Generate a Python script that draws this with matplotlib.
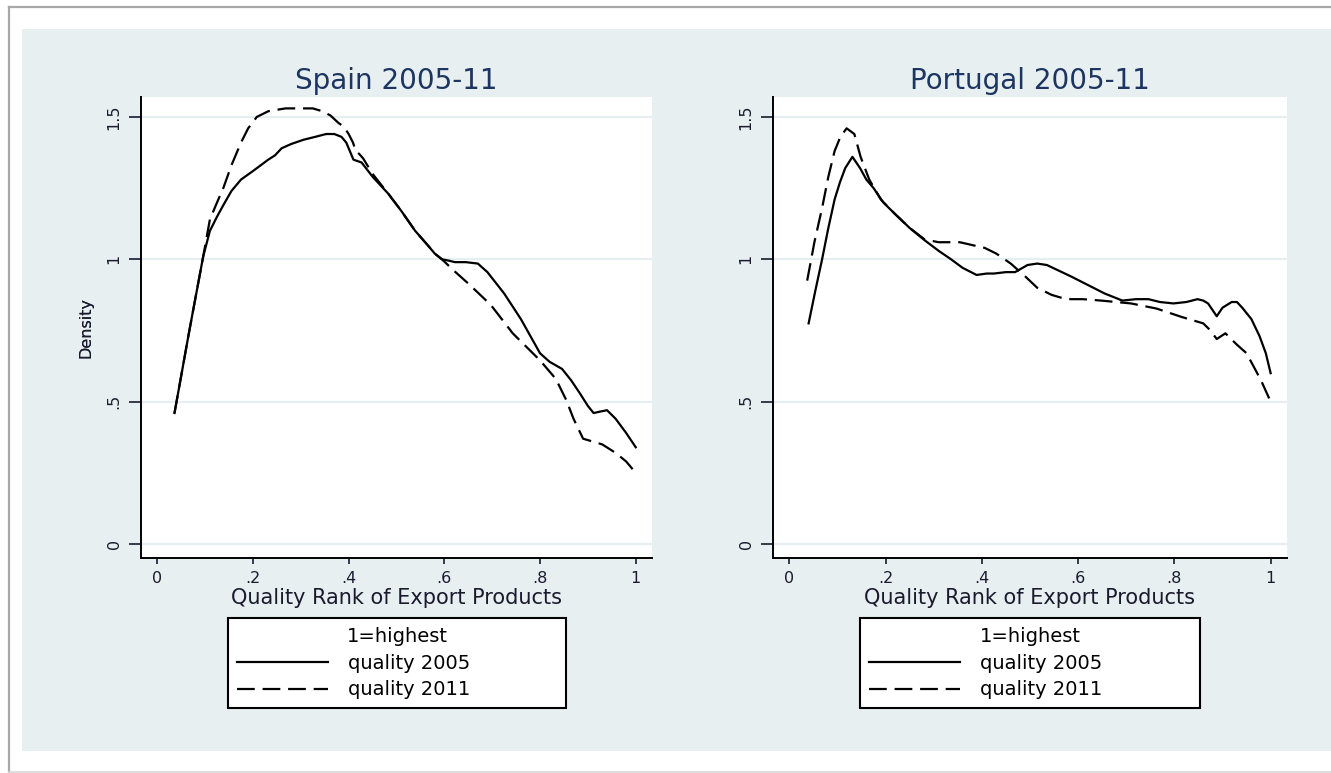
import matplotlib
matplotlib.use("Agg")
import matplotlib.pyplot as plt
from matplotlib.patches import Rectangle
from matplotlib.lines import Line2D

# Spain, kernel density of quality rank
spain_x05 = [0.036, 0.066, 0.096, 0.11, 0.125, 0.138, 0.155, 0.175, 0.2, 0.22, 0.232, 0.246, 0.26, 0.28,
             0.306, 0.33, 0.353, 0.37, 0.385, 0.395, 0.405, 0.41, 0.427, 0.45, 0.483, 0.51, 0.539, 0.565,
             0.58, 0.595, 0.61, 0.622, 0.645, 0.67, 0.69, 0.725, 0.76, 0.8, 0.82, 0.846, 0.865, 0.883,
             0.9, 0.912, 0.925, 0.94, 0.958, 0.98, 1.0]
spain_y05 = [0.46, 0.74, 1.01, 1.10, 1.15, 1.19, 1.24, 1.28, 1.31, 1.335, 1.35, 1.365, 1.39, 1.405,
             1.42, 1.43, 1.44, 1.44, 1.43, 1.41, 1.37, 1.35, 1.34, 1.29, 1.23, 1.17, 1.10, 1.05,
             1.02, 1.0, 0.995, 0.99, 0.99, 0.985, 0.955, 0.88, 0.79, 0.67, 0.64, 0.615, 0.575, 0.53,
             0.485, 0.46, 0.465, 0.47, 0.44, 0.39, 0.34]
spain_x11 = [0.036, 0.066, 0.096, 0.11, 0.125, 0.138, 0.155, 0.175, 0.19, 0.208, 0.232, 0.268, 0.3,
             0.325, 0.345, 0.362, 0.378, 0.39, 0.4, 0.409, 0.415, 0.422, 0.43, 0.45, 0.483, 0.51, 0.539,
             0.565, 0.58, 0.595, 0.62, 0.65, 0.697, 0.743, 0.8, 0.833, 0.855, 0.87, 0.89, 0.91, 0.93,
             0.958, 0.98, 0.995]
spain_y11 = [0.46, 0.74, 1.01, 1.14, 1.20, 1.25, 1.33, 1.41, 1.46, 1.50, 1.52, 1.53, 1.53,
             1.53, 1.52, 1.505, 1.48, 1.465, 1.44, 1.41, 1.38, 1.37, 1.355, 1.30, 1.23, 1.17, 1.10,
             1.05, 1.02, 1.0, 0.96, 0.915, 0.84, 0.74, 0.645, 0.58, 0.505, 0.44, 0.37, 0.36, 0.35,
             0.32, 0.29, 0.26]

# Portugal
port_x05 = [0.04, 0.054, 0.068, 0.081, 0.094, 0.105, 0.116, 0.131, 0.147, 0.16, 0.175, 0.195, 0.219,
            0.25, 0.281, 0.31, 0.336, 0.36, 0.389, 0.41, 0.425, 0.45, 0.469, 0.495, 0.515, 0.535, 0.56,
            0.585, 0.62, 0.655, 0.692, 0.72, 0.746, 0.77, 0.798, 0.825, 0.848, 0.86, 0.87, 0.88, 0.888,
            0.9, 0.919, 0.93, 0.941, 0.96, 0.977, 0.99, 1.0]
port_y05 = [0.775, 0.89, 1.0, 1.11, 1.21, 1.27, 1.32, 1.36, 1.32, 1.28, 1.25, 1.20, 1.16,
            1.11, 1.067, 1.03, 1.0, 0.97, 0.945, 0.95, 0.95, 0.955, 0.955, 0.98, 0.985, 0.98, 0.96,
            0.94, 0.91, 0.88, 0.855, 0.86, 0.86, 0.85, 0.845, 0.85, 0.86, 0.855, 0.845, 0.82, 0.80,
            0.83, 0.85, 0.85, 0.83, 0.79, 0.73, 0.67, 0.60]
port_x11 = [0.037, 0.052, 0.068, 0.081, 0.094, 0.106, 0.119, 0.135, 0.148, 0.166, 0.19, 0.219, 0.25,
            0.281, 0.31, 0.354, 0.38, 0.406, 0.43, 0.46, 0.49, 0.515, 0.545, 0.575, 0.61, 0.648, 0.71,
            0.763, 0.816, 0.86, 0.875, 0.888, 0.906, 0.93, 0.95, 0.98, 1.0]
port_y11 = [0.925, 1.06, 1.18, 1.29, 1.38, 1.43, 1.46, 1.44, 1.36, 1.28, 1.21, 1.16, 1.11,
            1.07, 1.06, 1.06, 1.05, 1.04, 1.02, 0.985, 0.94, 0.90, 0.875, 0.86, 0.86, 0.855, 0.845,
            0.827, 0.797, 0.775, 0.75, 0.72, 0.74, 0.70, 0.67, 0.575, 0.50]

panels = [
    ("Spain 2005-11", spain_x05, spain_y05, spain_x11, spain_y11),
    ("Portugal 2005-11", port_x05, port_y05, port_x11, port_y11),
]
xticks = [0, 0.2, 0.4, 0.6, 0.8, 1.0]
xticklabels = ["0", ".2", ".4", ".6", ".8", "1"]
yticks = [0, 0.5, 1.0, 1.5]
yticklabels = ["0", ".5", "1", "1.5"]

W, H = 1331, 773
fig = plt.figure(figsize=(W / 100, H / 100), dpi=100)
fig.patch.set_facecolor("white")

# outer frame (left, top, bottom) and graph region background
fig.add_artist(Line2D([9 / W, 9 / W], [0, 1 - 7 / H], transform=fig.transFigure,
                      color="#a8a8a8", lw=1.6, zorder=-2))
fig.add_artist(Line2D([9 / W, 1], [1 - 7 / H, 1 - 7 / H], transform=fig.transFigure,
                      color="#a8a8a8", lw=1.6, zorder=-2))
fig.add_artist(Line2D([9 / W, 1], [1 - 772 / H, 1 - 772 / H], transform=fig.transFigure,
                      color="#d8d8d8", lw=1.2, zorder=-2))
fig.add_artist(Rectangle((22 / W, 1 - 751 / H), (W - 22) / W, (751 - 29) / H,
                         transform=fig.transFigure, facecolor="#e8eff1",
                         edgecolor="none", zorder=-1))

ax_left = [141, 773]
ax_right = [652, 1287]
leg_left = [228, 860]
leg_right = [566, 1200]
ax_top, ax_bot = 97, 558

dash = (0, (8, 3.5))

for i, (title, x05, y05, x11, y11) in enumerate(panels):
    ax = fig.add_axes([ax_left[i] / W, 1 - ax_bot / H,
                       (ax_right[i] - ax_left[i]) / W, (ax_bot - ax_top) / H])
    ax.set_facecolor("white")
    for yv in yticks:
        ax.axhline(yv, color="#e6eef1", lw=1.6, zorder=0)
    ax.plot(x05, y05, color="black", lw=1.6, label="quality 2005", zorder=3)
    ax.plot(x11, y11, color="black", lw=1.6, ls=dash, label="quality 2011", zorder=3)

    ax.set_xlim(-0.034, 1.034)
    ax.set_ylim(-0.049, 1.57)
    for s in ["top", "right"]:
        ax.spines[s].set_visible(False)
    for s in ["left", "bottom"]:
        ax.spines[s].set_linewidth(1.4)
        ax.spines[s].set_color("black")

    ax.set_xticks(xticks)
    ax.set_xticklabels(xticklabels)
    ax.set_yticks(yticks)
    ax.set_yticklabels(yticklabels)
    ax.tick_params(axis="x", length=4.3, width=1.2, pad=5, labelsize=11.5, colors="#1a1a2e")
    ax.tick_params(axis="y", length=9, width=1.2, pad=5, labelsize=11.5, colors="#1a1a2e")
    plt.setp(ax.get_yticklabels(), rotation=90, va="center")

    ax.set_title(title, fontsize=20, color="#1c3561", pad=6)
    ax.set_ylabel("Density", fontsize=11.5, color="#1a1a2e")
    ax.yaxis.set_label_coords((93 - ax_left[i]) / (ax_right[i] - ax_left[i]), 0.5)
    ax.set_xlabel("Quality Rank of Export Products", fontsize=15, color="#1a1a2e", va="center")
    ax.xaxis.set_label_coords(0.5, (ax_bot - 598) / (ax_bot - ax_top))

    x0 = leg_left[i] / W
    w = (leg_right[i] - leg_left[i]) / W
    y1 = 1 - 618 / H
    leg = ax.legend(loc="upper left", bbox_to_anchor=(x0, y1 - 0.2, w, 0.2),
                    bbox_transform=fig.transFigure, mode="expand", borderaxespad=0,
                    title="1=highest", fontsize=14, title_fontsize=14,
                    frameon=True, fancybox=False, framealpha=1, edgecolor="black",
                    handlelength=4.7, handletextpad=1.0, borderpad=0.45, labelspacing=0.4)
    leg.get_frame().set_linewidth(1.5)

fig.savefig("out.png", dpi=100)
